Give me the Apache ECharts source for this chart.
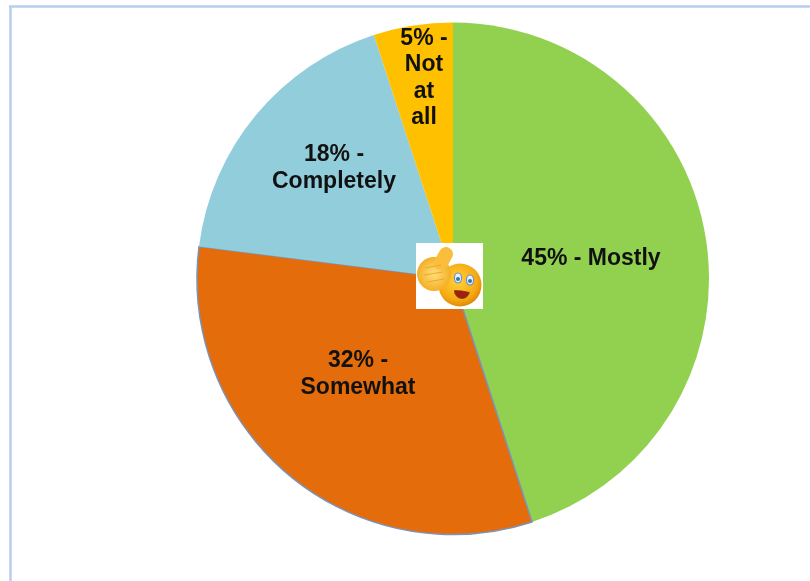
<!DOCTYPE html>
<html>
<head>
<meta charset="utf-8">
<style>html,body{margin:0;padding:0;background:#fff}#c{width:810px;height:581px}</style>
<script src="https://cdn.jsdelivr.net/npm/echarts@6/dist/echarts.min.js"></script>
</head>
<body>
<div id="c"></div>
<script>
const categories = ['Mostly', 'Somewhat', 'Completely', 'Not at all'];
const values = [45, 32, 18, 5];
const labelTexts = ['45% - Mostly', '32% -\nSomewhat', '18% -\nCompletely', '5% -\nNot\nat\nall'];
const colors = ['#92D050', '#E46C0A', '#92CDDC', '#FFC000'];
const labelCentres = [[591, 259], [358, 374], [334, 168], [424, 78]];

const chart = echarts.init(document.getElementById('c'), null, {renderer: 'canvas'});
const frame = '#B9CDEE';
const emoji = [
  {type: 'rect', shape: {x: 416, y: 243, width: 67, height: 66}, style: {fill: '#fff'}, z: 10},
  {type: 'circle', shape: {cx: 460, cy: 285, r: 21.5}, style: {fill: new echarts.graphic.RadialGradient(0.45, 0.4, 0.65, [{offset: 0, color: '#FFD23A'}, {offset: 0.7, color: '#F6A912'}, {offset: 1, color: '#D97F08'}])}, z: 11},
  {type: 'circle', shape: {cx: 434, cy: 274, r: 17}, style: {fill: new echarts.graphic.RadialGradient(0.5, 0.5, 0.6, [{offset: 0, color: '#FFDF7A'}, {offset: 1, color: '#F2A516'}])}, z: 12},
  {type: 'line', shape: {x1: 446, y1: 254, x2: 441, y2: 263}, style: {stroke: '#F8BE3C', lineWidth: 14, lineCap: 'round'}, z: 12},
  {type: 'line', shape: {x1: 425, y1: 268, x2: 441, y2: 265}, style: {stroke: '#EFA92A', lineWidth: 1}, z: 13},
  {type: 'line', shape: {x1: 424, y1: 275, x2: 443, y2: 272}, style: {stroke: '#EFA92A', lineWidth: 1}, z: 13},
  {type: 'line', shape: {x1: 427, y1: 282, x2: 444, y2: 279}, style: {stroke: '#EFA92A', lineWidth: 1}, z: 13},
  {type: 'ellipse', shape: {cx: 458, cy: 278, rx: 3.6, ry: 5}, style: {fill: '#E8F0FA', stroke: '#6C93CC', lineWidth: 1.2}, z: 13},
  {type: 'ellipse', shape: {cx: 470, cy: 280, rx: 3.6, ry: 5}, style: {fill: '#E8F0FA', stroke: '#6C93CC', lineWidth: 1.2}, z: 13},
  {type: 'circle', shape: {cx: 458, cy: 279, r: 2}, style: {fill: '#3B6FB5'}, z: 14},
  {type: 'circle', shape: {cx: 470, cy: 281, r: 2}, style: {fill: '#3B6FB5'}, z: 14},
  {type: 'sector', shape: {cx: 462, cy: 291, r: 7.5, r0: 0, startAngle: 0.2, endAngle: 3.2, clockwise: true}, style: {fill: '#A01E12', stroke: '#7A3A05', lineWidth: 0.8}, z: 13}
];

chart.setOption({
  animation: false,
  backgroundColor: '#fff',
  graphic: [
    {type: 'line', shape: {x1: 9, y1: 6.5, x2: 810, y2: 6.5}, style: {stroke: frame, lineWidth: 2.5}},
    {type: 'line', shape: {x1: 10.5, y1: 6, x2: 10.5, y2: 581}, style: {stroke: frame, lineWidth: 2.5}}
  ].concat(emoji),
  series: [{
    type: 'pie',
    center: [453, 278.5],
    radius: [0, 256],
    startAngle: 90,
    clockwise: true,
    silent: true,
    color: colors,
    data: categories.map((name, i) => ({
      name,
      value: values[i],
      itemStyle: i === 1 ? {borderColor: '#7C93B8', borderWidth: 1.5} : {},
      label: {formatter: labelTexts[i]}
    })),
    label: {
      show: true,
      position: 'inside',
      color: '#111',
      fontFamily: 'Liberation Sans',
      fontWeight: 'bold',
      fontSize: 23,
      lineHeight: 26.5,
      align: 'center',
      verticalAlign: 'middle'
    },
    labelLine: {show: false},
    labelLayout: params => {
      const [x, y] = labelCentres[params.dataIndex];
      return {x, y, align: 'center', verticalAlign: 'middle'};
    }
  }]
});
</script>
</body>
</html>
